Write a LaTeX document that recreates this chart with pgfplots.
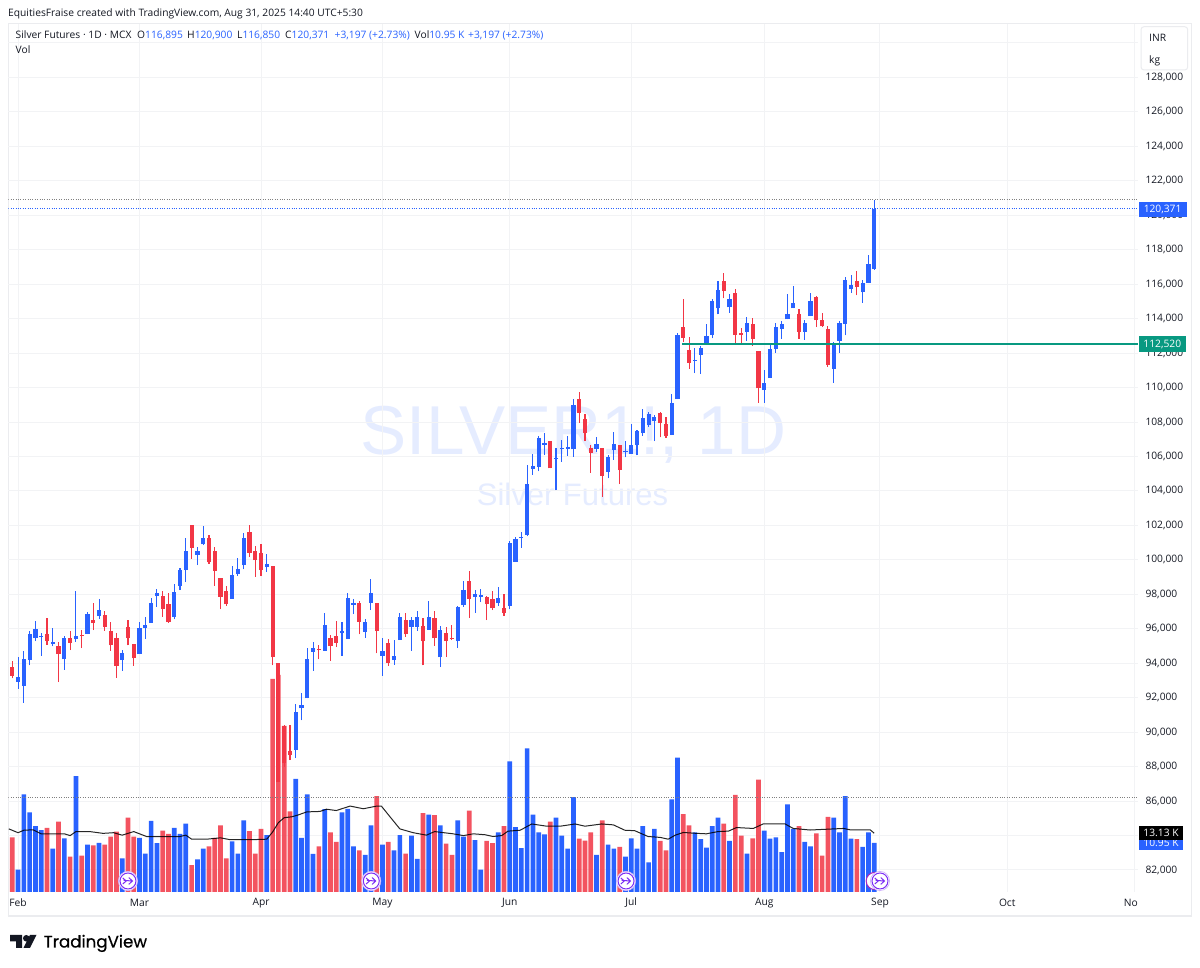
\documentclass[border=0pt]{standalone}
\usepackage{pgfplots}
\usepackage{pgfplotstable}
\usepackage{fontspec}
\pgfplotsset{compat=1.18}
\setmainfont{Open Sans}
\newfontfamily\logofont[FakeBold=0.6]{Poppins}
\newfontfamily\wmfont{Liberation Sans}
\definecolor{tvblue}{HTML}{2962FF}
\definecolor{tvred}{HTML}{F23645}
\definecolor{tvgreen}{HTML}{089981}
\definecolor{tvtext}{HTML}{131722}
\definecolor{tvgrid}{HTML}{F2F3F5}
\definecolor{tvframe}{HTML}{EBECEF}
\definecolor{wm}{HTML}{E5ECFF}
\definecolor{ev}{HTML}{7B2CF5}
\definecolor{evb}{HTML}{A726C1}
\newcommand\tf{\fontsize{10.25}{12}\selectfont}
\tikzset{sparsedot/.style={dash pattern=on 0.9pt off 1.5pt,line width=.8pt}}

\pgfdeclareplotmark{evicon}{%
  \pgfsetfillcolor{white}\pgfsetstrokecolor{ev!35}\pgfsetlinewidth{0.7pt}%
  \pgfpathcircle{\pgfpointorigin}{9.6pt}\pgfusepath{fill,stroke}%
  \pgfsetstrokecolor{ev}\pgfsetlinewidth{1pt}%
  \pgfpathcircle{\pgfpointorigin}{8pt}\pgfusepath{stroke}%
  \pgfsetlinewidth{1pt}%
  \pgfpathmoveto{\pgfpoint{-5.2pt}{3pt}}\pgfpathlineto{\pgfpoint{-1.8pt}{0pt}}\pgfpathlineto{\pgfpoint{-5.2pt}{-3pt}}%
  \pgfpathmoveto{\pgfpoint{0.8pt}{3.4pt}}\pgfpathlineto{\pgfpoint{4.4pt}{0pt}}\pgfpathlineto{\pgfpoint{0.8pt}{-3.4pt}}%
  \pgfpathmoveto{\pgfpoint{-4.4pt}{0.6pt}}\pgfpathlineto{\pgfpoint{4pt}{0pt}}%
  \pgfusepath{stroke}}
\pgfdeclareplotmark{eviconb}{%
  \pgfsetfillcolor{white}\pgfsetstrokecolor{evb}\pgfsetlinewidth{1pt}%
  \pgfpathcircle{\pgfpointorigin}{8.6pt}\pgfusepath{fill,stroke}}

% i open high low close volume(K)
\pgfplotstableread{
i o h l c v
1 92930 94380 92520 93200 5.0
2 92680 94700 91710 94260 21.8
3 94180 95860 93880 95670 17.8
4 95480 96460 95280 95960 14.7
5 95520 95770 94430 95590 13.8
7 95130 96020 94980 95260 9.7
9 94220 95570 93620 95460 12.0
11 95380 98180 95250 95570 25.9
13 95690 96960 95690 96830 10.6
15 96730 97740 96580 97080 11.0
19 94180 94760 93570 94590 7.5
22 94530 96420 94530 96020 12.1
23 96040 96670 95420 96210 8.6
24 96350 97810 96350 97520 15.9
25 97890 98290 97270 98100 10.9
28 96690 98580 96540 98120 14.3
29 98490 99530 98240 99430 13.0
30 99410 101290 98700 100530 15.3
32 100300 100730 99700 100500 7.3
33 100900 101940 100860 101250 9.7
38 97740 99650 97740 99120 11.3
39 99200 100090 99070 99490 8.6
40 99700 101540 99450 101290 16.0
44 99590 100320 99300 99740 12.7
49 88950 91610 88490 91150 25.3
50 91380 92250 90690 91550 12.1
51 91960 94860 91960 94260 21.8
52 94670 95260 93570 94860 8.5
54 94710 96900 94710 96210 18.5
57 95750 96420 94430 95860 17.8
58 95400 98060 95400 97770 18.6
59 97390 97720 96850 97480 10.2
61 95820 96560 95480 96420 8.3
62 97500 98870 97080 98060 14.9
64 94430 95480 93280 94710 10.6
66 94180 95340 93910 94420 9.3
67 95340 96890 95340 96670 12.7
69 96130 96670 94720 96480 12.6
70 96130 97020 95880 96710 7.4
72 95940 97640 95940 96710 17.3
74 94340 96150 93780 95920 14.9
77 95280 97310 94900 97270 16.0
78 97370 98800 97270 98240 12.4
80 97830 98240 96920 98040 11.6
81 97850 98290 97540 97970 5.0
84 97480 98430 97330 97810 13.3
86 97330 101110 97140 100980 29.2
87 99880 101330 99880 101190 14.5
88 101290 101610 100690 101350 9.8
89 101470 105510 101360 104430 32.1
90 105290 106140 104950 105430 17.3
91 105390 107180 105140 107090 13.3
92 106690 107340 106080 106770 12.9
94 105840 106470 104040 105900 16.6
95 106440 106950 105700 106500 12.6
96 106450 107180 106030 106530 9.7
97 106410 109310 105990 109000 21.2
101 106450 107110 106280 106740 8.3
103 105120 106080 104730 105970 10.6
104 106350 107430 105800 106720 9.7
106 106240 106890 105950 106320 7.9
107 106160 107880 106160 106680 12.0
108 106660 107530 106070 107490 9.7
109 107360 108750 107200 108230 14.7
110 107820 108570 107720 108440 6.6
111 108070 108380 106890 108280 14.1
114 107240 109650 107240 109090 20.7
115 109330 113150 109330 113030 30.0
118 111550 112280 110830 111620 13.3
119 111890 112420 110790 112320 11.8
120 112510 113690 112510 112980 9.9
121 113050 115160 112860 115020 14.7
122 114600 116200 114250 115640 16.6
124 114650 115430 114350 115140 11.4
127 113250 114080 112720 113730 8.6
130 109850 111010 109130 110250 13.7
131 110540 112530 110540 112220 11.9
132 112260 113730 112030 113520 12.2
133 113420 113880 112840 113670 8.9
134 113960 115430 113960 114270 19.6
135 114600 115890 114600 114890 14.1
137 113250 113920 112780 113730 11.2
138 114150 115480 114150 115020 10.2
142 111080 112670 110290 112590 16.6
143 112710 113860 112030 113730 13.3
144 113710 116390 113030 116240 21.4
145 115700 116510 115500 115950 11.9
147 115520 116240 114920 116080 10.1
148 116060 117670 116060 117180 13.3
149 116895 120900 116850 120371 10.95
}\upbars
\pgfplotstableread{
i o h l c v
0 93760 94130 93120 93260 12.2
6 95670 96620 95070 95280 14.3
8 94990 95210 92910 94530 15.7
10 95460 95860 94760 95190 7.9
12 95640 95900 94880 95580 8.1
14 96520 97480 95920 96330 10.4
16 96770 97060 95880 96130 10.6
17 95860 96420 94720 95030 12.4
18 95460 95770 93160 93840 13.5
20 96110 96480 95030 95480 16.6
21 95110 95110 93840 94280 12.4
26 97930 98180 96690 97160 13.7
27 97430 98060 96350 96380 13.0
31 102000 102050 100050 100690 6.0
34 101290 101420 99760 99860 10.2
35 100500 100730 98490 99360 12.1
36 98970 98970 97140 97850 14.9
37 98180 98470 97350 97430 7.5
41 101630 102000 100170 100400 13.6
42 100530 100820 99010 99990 8.6
43 100380 100940 99050 99410 14.1
45 99630 99630 93880 94340 47.6
46 94040 94040 87100 87100 48.5
47 90340 90400 88000 88200 37.1
48 88890 90400 88370 88660 18.0
53 94810 95050 94220 94750 10.2
55 95460 95610 94130 94990 13.3
56 95570 96460 94940 95190 11.2
60 97480 97640 95670 96400 9.3
63 97480 97480 94570 95880 21.4
65 95150 95400 93840 94030 11.2
68 96520 96890 95530 95670 8.6
71 96170 96620 93880 95280 17.6
73 96620 97020 95010 95440 17.2
75 95730 96080 94360 95280 10.8
76 95490 96210 95340 95410 8.3
79 98780 99340 96640 97740 18.2
82 97850 97930 96500 97430 11.4
83 97720 98180 97080 97190 10.9
85 97210 98020 96750 96920 14.7
93 106890 106890 105310 105310 15.7
98 109340 109750 107960 108520 11.9
99 108150 108460 106890 107360 11.5
100 106490 106660 105060 106220 13.3
102 106490 106490 103670 104890 16.0
105 106640 106640 104390 105200 10.1
112 108500 108590 107110 107940 11.4
113 107900 108300 107090 107180 9.3
116 113540 115140 112670 112880 17.4
117 112180 112940 111080 111450 14.9
123 116180 116620 115180 115600 15.3
125 115480 115700 112510 113050 21.7
126 113170 113440 112570 113050 12.6
128 113670 114020 112430 112840 12.0
129 112110 112110 109130 109950 25.1
136 114270 114540 112840 113250 14.7
139 115230 115290 113500 113900 13.1
140 113920 114330 113500 113550 8.1
141 113380 113570 111220 111330 16.8
146 116180 116760 115350 115830 11.8
}\downbars
% volume moving average (K)
\pgfplotstableread{
i m
-0.6 14.1
1 13.25
2 13.8
3.6 13.9
5 13.0
7 13.0
9 13.0
10 12.6
11 13.5
13.4 13.5
15.7 13.1
17.5 13.25
19 12.7
21 13.5
23.2 12.4
25.5 12.4
29 12.4
30 12.7
31 11.8
33.6 11.8
36 12.1
37.6 11.7
41.7 11.7
44 11.8
45 13.4
46 15.5
47 16.6
48.3 16.8
49.4 17.2
50.9 17.9
53.2 18.0
54.3 18.5
56 18.2
58.4 19.2
60.7 18.6
63 19.2
63.8 19.2
65.3 16.8
67 14.1
69.3 13.25
71.6 12.7
73 13.5
76.2 13.0
78 12.6
79.7 13.0
81.7 12.8
83.1 12.4
84.6 12.6
85.7 13.6
87.8 13.8
89.8 15.2
92.4 14.7
94.7 14.7
97.3 15.2
99 14.7
101.9 15.2
103.9 15.0
105.9 13.8
107.6 13.7
109.9 12.4
112 12.2
113.4 11.8
114.6 12.7
116 13.3
118.3 13.1
120 13.0
122 13.5
123.8 13.6
125.2 14.4
128.1 14.2
129.8 15.2
133.6 15.2
135 14.2
137.9 13.85
143.7 14.2
144.8 13.9
148.3 13.9
149 13.13
}\volma

\pgfplotsset{pane/.style={at={(8.3pt,76pt)},anchor=south west,width=1129.7pt,height=868pt,
  scale only axis,xmin=-0.69,xmax=194.6}}
\pgfplotsset{price/.style={pane,ymin=80723,ymax=131100}}
\begin{document}
\begin{tikzpicture}[x=1pt,y=1pt]
\path[use as bounding box,fill=white] (0,0) rectangle (1200,968);
% frame
\draw[tvframe,line width=1pt] (8.3,52) -- (8.3,944.5) -- (1191.5,944.5) -- (1191.5,52);
\draw[tvframe,line width=2pt] (7.8,52) -- (1192,52);
% watermark
\node[anchor=center,inner sep=0,text=wm,font=\wmfont\fontsize{69.2}{70}\selectfont] at (573.5,533) {SILVER1!, 1D};
\node[anchor=center,inner sep=0,text=wm,font=\wmfont\fontsize{31}{31}\selectfont] at (572.5,474) {Silver Futures};

% grid and tick labels
\begin{axis}[price,
  axis line style={draw=none},
  xtick={1,22,43,64,86,107,130,150,172,194},
  xticklabels={Feb,Mar,Apr,May,Jun,Jul,Aug,Sep,Oct,{}},
  ytick={82000,84000,...,130000},
  scaled y ticks=false,
  yticklabel pos=right,
  xmajorgrids,ymajorgrids,
  grid style={tvgrid,line width=1pt},
  major tick length=0pt,
  tick label style={font=\tf,text=tvtext},
  y tick label style={/pgf/number format/fixed,/pgf/number format/1000 sep={,},/pgf/number format/assume math mode=true},
  yticklabel style={anchor=west,xshift=4pt},
  xticklabel style={yshift=-11pt,inner sep=0pt,anchor=center},
]
\addplot[draw=none,forget plot] coordinates {(-0.69,90000)(194.6,90000)};
\end{axis}

% volume pane
\begin{axis}[pane,ymin=0,ymax=193.96,hide axis]
\addplot[ybar,/pgf/bar shift=0pt,bar width=4.7pt,draw=none,fill=tvred,fill opacity=.85] table[x=i,y=v] {\downbars};
\addplot[ybar,/pgf/bar shift=0pt,bar width=4.7pt,draw=none,fill=tvblue] table[x=i,y=v] {\upbars};
\addplot[black,line width=1pt,opacity=.85] table[x=i,y=m] {\volma};
\addplot[gray,sparsedot] coordinates {(-0.69,21.07)(194.6,21.07)};
\addplot[only marks,mark=eviconb] coordinates {(149.1,2.46)};
\addplot[only marks,mark=evicon] coordinates {(20,2.46)(62.06,2.46)(106.1,2.46)(150,2.46)};
\end{axis}

% candles
\begin{axis}[price,hide axis]
\addplot[draw=none,mark=none,forget plot,error bars/.cd,y dir=plus,y explicit,error mark=none,
  error bar style={tvblue,line width=1.1pt,line cap=butt}]
  table[x=i,y=l,y error plus expr=\thisrow{h}-\thisrow{l}] {\upbars};
\addplot[draw=none,mark=none,forget plot,error bars/.cd,y dir=plus,y explicit,error mark=none,
  error bar style={tvred,line width=1.1pt,line cap=butt}]
  table[x=i,y=l,y error plus expr=\thisrow{h}-\thisrow{l}] {\downbars};
\addplot[draw=none,mark=none,forget plot,error bars/.cd,y dir=plus,y explicit,error mark=none,
  error bar style={tvblue,line width=4.2pt,line cap=butt}]
  table[x=i,y=o,y error plus expr=\thisrow{c}-\thisrow{o}] {\upbars};
\addplot[draw=none,mark=none,forget plot,error bars/.cd,y dir=plus,y explicit,error mark=none,
  error bar style={tvred,line width=4.2pt,line cap=butt}]
  table[x=i,y=c,y error plus expr=\thisrow{o}-\thisrow{c}] {\downbars};
\addplot[gray,sparsedot] coordinates {(-0.69,120900)(194.6,120900)};
\addplot[tvblue,sparsedot] coordinates {(-0.69,120371)(194.6,120371)};
\addplot[tvgreen,line width=2pt] coordinates {(115.8,112520)(194.6,112520)};
\end{axis}

% clipped November label
\node[anchor=base east,inner sep=0,text=tvtext,font=\tf] at (1138,61) {No};
% right-hand tags
\fill[tvblue] (1138.5,751) rectangle (1186.7,766);
\node[anchor=center,inner sep=0,text=white,font=\tf] at (1162.6,759) {120,371};
\fill[tvgreen] (1138.5,616) rectangle (1186,632);
\node[anchor=center,inner sep=0,text=white,font=\tf] at (1162.3,624) {112,520};
\fill[tvblue] (1138.5,118) rectangle (1183.3,132);
\node[anchor=center,inner sep=0,text=white,font=\tf] at (1161,125) {10.95 K};
\fill[black] (1138.5,127.7) rectangle (1183.3,142);
\node[anchor=center,inner sep=0,text=white,font=\tf] at (1161,134.7) {13.13 K};
% currency box
\draw[tvframe,fill=white,rounded corners=3pt,line width=1pt] (1141,898) rectangle (1187.7,941.3);
\node[anchor=base west,inner sep=0,text=tvtext,font=\tf] at (1149,926) {INR};
\node[anchor=base west,inner sep=0,text=tvtext,font=\tf] at (1149,904) {kg};

% header and legend
\node[anchor=base west,inner sep=0,text=tvtext,font=\tf] at (8,951) {EquitiesFraise created with TradingView.com, Aug 31, 2025 14:40 UTC+5:30};
\node[anchor=base west,inner sep=0,text=tvtext,font=\tf] at (15.5,929) {Silver Futures · 1D · MCX};
\node[anchor=base west,inner sep=0,text=tvtext,font=\tf] at (15.5,914) {Vol};
\node[anchor=base west,inner sep=0,font=\tf] at (137,929) {\textcolor{tvtext}{O}\textcolor{tvblue}{116,895}};
\node[anchor=base west,inner sep=0,font=\tf] at (187,929) {\textcolor{tvtext}{H}\textcolor{tvblue}{120,900}};
\node[anchor=base west,inner sep=0,font=\tf] at (237,929) {\textcolor{tvtext}{L}\textcolor{tvblue}{116,850}};
\node[anchor=base west,inner sep=0,font=\tf] at (285,929) {\textcolor{tvtext}{C}\textcolor{tvblue}{120,371}};
\node[anchor=base west,inner sep=0,text=tvblue,font=\tf] at (334.5,929) {+3,197 (+2.73\%)};
\node[anchor=base west,inner sep=0,font=\tf] at (414.5,929) {\textcolor{tvtext}{Vol}\textcolor{tvblue}{10.95 K}};
\node[anchor=base west,inner sep=0,text=tvblue,font=\tf] at (468,929) {+3,197 (+2.73\%)};

% logo
\fill[tvtext] (10,33) rectangle (22,26.5) (16,26.5) rectangle (22,20);
\fill[tvtext] (26.3,29.7) circle (3.3);
\fill[tvtext] (30,33) -- (36.5,33) -- (30,20) -- (23.5,20) -- cycle;
\node[anchor=base west,inner sep=0,text=black,font=\logofont\fontsize{16.7}{20}\selectfont] at (43.5,20.5) {TradingView};
\end{tikzpicture}
\end{document}
